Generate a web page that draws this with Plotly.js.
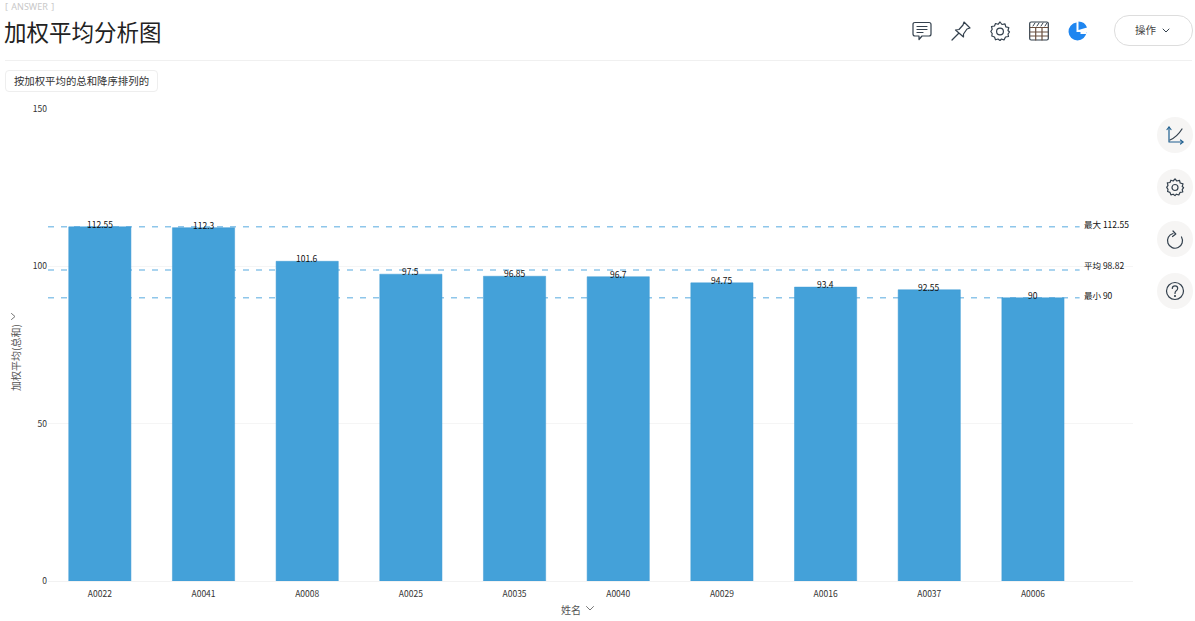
<!DOCTYPE html>
<html><head><meta charset="utf-8">
<script src="https://cdn.plot.ly/plotly-3.0.1.min.js"></script>
<style>
html,body{margin:0;padding:0;background:#fff;width:1195px;height:621px;overflow:hidden;font-family:"Noto Sans CJK SC","Noto Sans",sans-serif}
#chart{position:absolute;left:0;top:0;width:1195px;height:621px}
.o{position:absolute;z-index:5}
svg.o{fill:none;stroke:#33404d;stroke-width:1.2;stroke-linejoin:round;stroke-linecap:round;overflow:visible}
.circ{position:absolute;width:36px;height:36px;border-radius:18px;background:#f6f5f4;left:1157px;z-index:4}
</style></head><body>
<div id="chart"></div>
<div class="o" style="left:5px;top:1px;font-size:9px;line-height:12px;color:#c8c8c8;word-spacing:1px;font-family:'Noto Sans',sans-serif">[ ANSWER ]</div>
<div class="o" style="left:5px;top:60px;width:1187px;height:1px;background:#f0f0f0"></div>
<div class="o" style="left:5px;top:70px;width:151px;height:20px;border:1px solid #eeeeee;border-radius:4px;font-size:10.4px;line-height:20px;text-align:center;color:#333;white-space:nowrap">按加权平均的总和降序排列的</div>
<div class="o" style="left:1114px;top:15px;width:77px;height:29px;border:1px solid #dddddd;border-radius:15px;font-size:10.5px;line-height:28px;color:#444;text-indent:20px">操作</div>
<svg class="o" style="left:1162px;top:28px" width="10" height="6"><path d="M1 1 L4 4 L7 1" style="stroke-width:1"/></svg>

<svg class="o" style="left:912px;top:21px" width="20" height="20"><path d="M3 1.5H17Q19 1.5 19 3.5V13Q19 15 17 15H10L7 18.5V15H3Q1 15 1 13V3.5Q1 1.5 3 1.5Z"/><path d="M5 5.5H15M5 8.5H15M5 11.5H11"/></svg>
<svg class="o" style="left:951px;top:21px" width="20" height="20"><path d="M13 1L19 7L16 8L12.5 13L12.5 16L4.5 9L8 8.5L12 4Z"/><path d="M7.5 12.5L1 19"/></svg>
<svg class="o" style="left:990px;top:21px" width="20" height="20"><path d="M10 1L12 3.5L15 2.8L15.8 5.8L18.8 6.5L18 9.5L19.5 11L18 13L18.5 15.5L15.5 16L14 19L11.5 18L10 19.5L8 18L5.5 18.8L4.5 16L1.8 15L2.2 12.5L0.8 10.5L2.2 8.3L1.5 5.5L4.5 5L5.5 2.5L8 3.3Z"/><circle cx="10" cy="10.5" r="3.4"/></svg>
<svg class="o" style="left:1029px;top:21px" width="20" height="20"><rect x="0.7" y="1" width="18.6" height="18" rx="1.5"/><path d="M1 6.5H19M1 11H19M1 15H19M6.7 6.5V19M13 6.5V19" style="stroke:#6b5040"/><path d="M4 5L6 2M8 5L10 2M12 5L14 2M16 5L18 2" style="stroke-width:1"/></svg>
<svg class="o" style="left:1068px;top:21px;stroke:none;fill:#1f86f0" width="20" height="20"><path d="M8.5 1.5A9 9 0 1 0 18.5 11H8.5Z"/><path d="M10.5 0.5A9 9 0 0 1 19 6.5L10.5 9Z"/><path d="M12.5 11H18.5L18 13H12.5Z" style="fill:#fff"/></svg>

<div class="circ" style="top:117px"></div><div class="circ" style="top:169px"></div><div class="circ" style="top:221px"></div><div class="circ" style="top:273px"></div>
<svg class="o" style="left:1166px;top:126px" width="18" height="18"><path d="M3 1V16H17" style="stroke:#1f5f8f"/><path d="M1 3.5L3 1L5 3.5M14.5 14L17 16L14.5 18" style="stroke:#1f5f8f"/><path d="M4 14Q11 11 16 3"/></svg>
<svg class="o" style="left:1166px;top:178px" width="18" height="18"><path d="M9 0.8L10.8 3L13.5 2.3L14.2 5L17 5.8L16.2 8.6L17.6 9.6L16.2 11.6L16.8 14L14 14.4L12.8 17L10.4 16.2L9 17.6L7.2 16.2L4.9 16.9L4 14.4L1.6 13.5L2 11.3L0.7 9.4L2 7.4L1.3 4.9L4 4.5L4.9 2.2L7.2 3Z"/><circle cx="9" cy="9.5" r="3"/></svg>
<svg class="o" style="left:1167px;top:231px" width="16" height="16"><path d="M6 2.5A7.5 7.5 0 1 0 14.5 6"/><path d="M6 0L8.8 3L5.5 5.5"/></svg>
<svg class="o" style="left:1165px;top:281px" width="20" height="20"><circle cx="10" cy="10" r="8.5"/><path d="M7.3 7.5Q7.3 4.8 10 4.8Q12.7 4.8 12.7 7.3Q12.7 9 11 10Q10 10.7 10 12.5"/><circle cx="10" cy="15" r="0.5"/></svg>
<svg class="o" style="left:11px;top:313px" width="8" height="8"><path d="M0.5 0.5L4 3.5L0.5 6.5" style="stroke:#777;stroke-width:1"/></svg>
<svg class="o" style="left:586px;top:606px" width="9" height="6"><path d="M0.5 0.5L4 4L7.5 0.5" style="stroke:#777;stroke-width:1"/></svg>

<script>
var categories = ["A0022","A0041","A0008","A0025","A0035","A0040","A0029","A0016","A0037","A0006"];
var values = [112.55,112.3,101.6,97.5,96.85,96.7,94.75,93.4,92.55,90];
var valueLabels = ["112.55","112.3","101.6","97.5","96.85","96.7","94.75","93.4","92.55","90"];
var refNames = ["最大 112.55","平均 98.82","最小 90"];
var refValues = [112.55,98.82,90];
var yTicks = [0,50,100,150];
var chartTitle = "加权平均分析图";
var xTitle = "姓名";
var yTitle = "加权平均(总和)";

var FONT = '"Noto Sans CJK SC","Noto Sans",sans-serif';
var refLabelLift = [3,5,3];
var annotations = [];
categories.forEach(function(c,i){
  annotations.push({x:c,y:values[i],xref:'x',yref:'y',text:valueLabels[i],showarrow:false,
    xanchor:'center',yanchor:'middle',yshift:3,font:{size:8.5,color:'#111',family:FONT}});
});
refValues.forEach(function(v,i){
  annotations.push({x:9.5,y:v,xref:'x',yref:'y',text:refNames[i],showarrow:false,
    xanchor:'left',xshift:-3,yanchor:'middle',yshift:refLabelLift[i],font:{size:8.5,color:'#111',family:FONT}});
});
annotations.push({xref:'paper',yref:'paper',x:0,y:0,text:xTitle,showarrow:false,
  xshift:570-47.5,yshift:-28,xanchor:'center',yanchor:'middle',font:{size:10,color:'#555',family:FONT}});
annotations.push({xref:'paper',yref:'paper',x:0,y:0,text:yTitle,showarrow:false,textangle:-90,
  xshift:15-47.5,yshift:581.5-358,xanchor:'center',yanchor:'middle',font:{size:10,color:'#555',family:FONT}});
var shapes = refValues.map(function(v){
  return {type:'line',layer:'below',xref:'x',yref:'y',x0:-0.5,x1:9.45,y0:v,y1:v,
    line:{color:'#8ec6ea',width:1.5,dash:'6px,7px'}};
});
Plotly.newPlot('chart',[{
  type:'bar',x:categories,y:values,width:0.6,
  marker:{color:'#44a1d9',line:{color:'#3f9bd4',width:0.5}},hoverinfo:'x+y'
}],{
  width:1195,height:621,
  margin:{l:47.5,r:62,t:108.5,b:39.5,pad:0},
  paper_bgcolor:'#fff',plot_bgcolor:'#fff',
  font:{family:FONT,size:8.5,color:'#333'},
  title:{text:chartTitle,x:0,xref:'container',xanchor:'left',y:0.946,yanchor:'middle',pad:{l:4},font:{size:22.5,color:'#222',family:FONT}},
  xaxis:{type:'category',categoryorder:'array',categoryarray:categories,range:[-0.5,9.965],
    showgrid:false,zeroline:false,showline:true,linecolor:'#f2f2f2',ticks:'outside',ticklen:5,tickcolor:'rgba(0,0,0,0)',
    tickfont:{size:8.5,color:'#333'},automargin:false},
  yaxis:{range:[0,150],tickvals:yTicks,ticktext:yTicks.map(String),showgrid:true,gridcolor:'#f5f5f5',
    zeroline:false,showline:false,ticks:'',tickfont:{size:8.5,color:'#333'},automargin:false},
  shapes:shapes,annotations:annotations,showlegend:false,bargap:0.4
},{displayModeBar:false,staticPlot:true});
</script>
</body></html>
